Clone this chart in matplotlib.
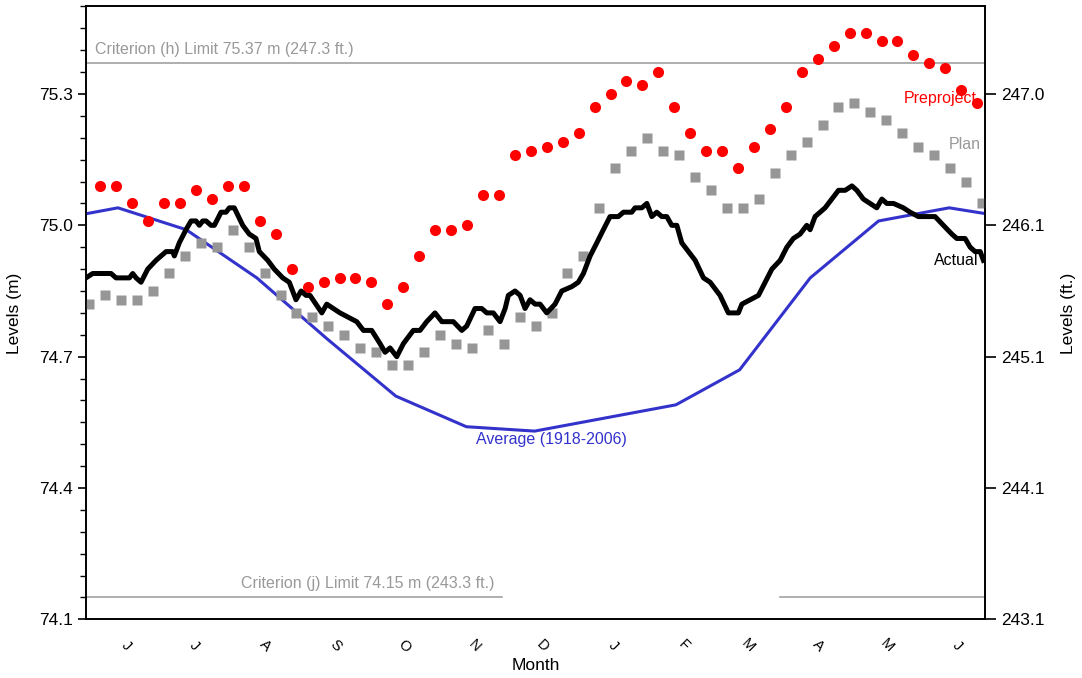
import numpy as np
import matplotlib
matplotlib.use("Agg")
import matplotlib.pyplot as plt
import matplotlib.transforms as mtransforms

plt.rcParams["font.family"] = ["Liberation Sans", "DejaVu Sans"]

# x axis is in weeks counted from June 1
months = ["J", "J", "A", "S", "O", "N", "D", "J", "F", "M", "A", "M", "J"]
month_days = [30, 31, 31, 30, 31, 30, 31, 31, 28, 31, 30, 31, 30]

# Average (1918-2006), monthly values from the May before to the July after (m)
average_m = [75.01, 75.04, 74.99, 74.88, 74.74, 74.61, 74.54, 74.53,
             74.56, 74.59, 74.67, 74.88, 75.01, 75.04, 74.99]

# Plan weekly levels (m)
plan_m = [74.82, 74.84, 74.83, 74.83, 74.85, 74.89, 74.93, 74.96, 74.95, 74.99,
          74.95, 74.89, 74.84, 74.80, 74.79, 74.77, 74.75, 74.72, 74.71, 74.68,
          74.68, 74.71, 74.75, 74.73, 74.72, 74.76, 74.73, 74.79, 74.77, 74.80,
          74.89, 74.93, 75.04, 75.13, 75.17, 75.20, 75.17, 75.16, 75.11, 75.08,
          75.04, 75.04, 75.06, 75.12, 75.16, 75.19, 75.23, 75.27, 75.28, 75.26,
          75.24, 75.21, 75.18, 75.16, 75.13, 75.10, 75.05]

# Preproject weekly levels (m)
preproject_m = [75.09, 75.09, 75.05, 75.01, 75.05, 75.05, 75.08, 75.06, 75.09, 75.09,
                75.01, 74.98, 74.90, 74.86, 74.87, 74.88, 74.88, 74.87, 74.82, 74.86,
                74.93, 74.99, 74.99, 75.00, 75.07, 75.07, 75.16, 75.17, 75.18, 75.19,
                75.21, 75.27, 75.30, 75.33, 75.32, 75.35, 75.27, 75.21, 75.17, 75.17,
                75.13, 75.18, 75.22, 75.27, 75.35, 75.38, 75.41, 75.44, 75.44, 75.42,
                75.42, 75.39, 75.37, 75.36, 75.31, 75.28]

# Actual levels (week, m)
actual_week = [0.00, 0.42, 1.57, 1.88, 2.72, 2.93, 3.14, 3.45, 3.87, 4.39,
               5.02, 5.44, 5.54, 5.85, 6.27, 6.59, 6.90, 7.11, 7.32, 7.53,
               7.84, 8.05, 8.47, 8.78, 8.99, 9.30, 9.83, 10.24, 10.66, 10.87,
               11.40, 11.81, 12.34, 12.75, 13.17, 13.49, 13.80, 14.05, 14.79, 15.10,
               15.51, 15.93, 16.46, 16.98, 17.40, 17.92, 18.44, 18.76, 19.07, 19.49,
               19.91, 20.53, 20.95, 21.37, 21.89, 22.32, 23.04, 23.57, 23.88, 24.40,
               24.82, 25.14, 25.55, 25.97, 26.29, 26.49, 26.91, 27.23, 27.54, 27.85,
               28.17, 28.48, 28.90, 29.42, 29.84, 30.47, 30.88, 31.20, 31.62, 32.04,
               32.45, 32.87, 33.39, 33.71, 34.23, 34.44, 34.86, 35.18, 35.49, 35.80,
               36.12, 36.43, 36.74, 37.06, 37.37, 37.79, 38.21, 38.73, 39.15, 39.77,
               40.29, 40.92, 41.14, 41.66, 42.18, 42.60, 43.02, 43.54, 43.96, 44.37,
               44.79, 45.21, 45.42, 45.73, 46.05, 46.36, 46.78, 47.20, 47.62, 48.04,
               48.35, 48.76, 49.18, 49.60, 49.92, 50.23, 50.65, 51.27, 51.69, 52.21,
               52.95, 53.26, 53.78, 54.31, 54.62, 55.14, 55.46, 55.77, 56.09, 56.29]
actual_m = [74.88, 74.89, 74.89, 74.88, 74.88, 74.89, 74.88, 74.87, 74.90, 74.92,
            74.94, 74.94, 74.93, 74.96, 74.99, 75.01, 75.01, 75.00, 75.01, 75.01,
            75.00, 75.00, 75.03, 75.03, 75.04, 75.04, 75.00, 74.98, 74.97, 74.94,
            74.92, 74.90, 74.88, 74.87, 74.83, 74.85, 74.84, 74.84, 74.80, 74.82,
            74.81, 74.80, 74.79, 74.78, 74.76, 74.76, 74.73, 74.71, 74.72, 74.70,
            74.73, 74.76, 74.76, 74.78, 74.80, 74.78, 74.78, 74.76, 74.77, 74.81,
            74.81, 74.80, 74.80, 74.78, 74.81, 74.84, 74.85, 74.84, 74.81, 74.83,
            74.82, 74.82, 74.80, 74.82, 74.85, 74.86, 74.87, 74.89, 74.93, 74.96,
            74.99, 75.02, 75.02, 75.03, 75.03, 75.04, 75.04, 75.05, 75.02, 75.03,
            75.02, 75.02, 75.00, 75.00, 74.96, 74.94, 74.92, 74.88, 74.87, 74.84,
            74.80, 74.80, 74.82, 74.83, 74.84, 74.87, 74.90, 74.92, 74.95, 74.97,
            74.98, 75.00, 74.99, 75.02, 75.03, 75.04, 75.06, 75.08, 75.08, 75.09,
            75.08, 75.06, 75.05, 75.04, 75.06, 75.05, 75.05, 75.04, 75.03, 75.02,
            75.02, 75.02, 75.00, 74.98, 74.97, 74.97, 74.95, 74.94, 74.94, 74.92]

crit_h = 75.37
crit_j = 74.15
crit_j_gap = (26.1, 43.5)  # weeks where criterion (j) line is not drawn
m_ticks = [74.1, 74.4, 74.7, 75.0, 75.3]

# positions
starts = np.concatenate([[0], np.cumsum(month_days)[:-1]])
month_mid = (starts + 14) / 7.0
avg_x = np.concatenate([[-17 / 7.0], month_mid, [(starts[-1] + month_days[-1] + 44) / 7.0]])
plan_x = 0.2 + np.arange(len(plan_m))
pre_x = 0.9 + np.arange(len(preproject_m))
xmax = 56.4

GRAY = "#999999"
FS_NOTE = 11.5
fig = plt.figure(figsize=(10.82, 6.78), dpi=100)
ax = fig.add_axes([0.0795, 0.0865, 0.831, 0.904])

ax.axhline(crit_h, color=GRAY, lw=1.1)
ax.plot([0, crit_j_gap[0]], [crit_j, crit_j], color=GRAY, lw=1.1)
ax.plot([crit_j_gap[1], xmax], [crit_j, crit_j], color=GRAY, lw=1.1)

ax.plot(avg_x, average_m, color="#3333cc", lw=2.2, zorder=3)
ax.plot(plan_x, plan_m, ls="none", marker="s", ms=7, color="#969696", mec="none", zorder=4)
ax.plot(pre_x, preproject_m, ls="none", marker="o", ms=8, color="#ff0000", mec="none", zorder=4)
ax.plot(actual_week, actual_m, color="black", lw=3.6, zorder=5)

ax.text(0.55, 75.385, "Criterion (h) Limit 75.37 m (247.3 ft.)", color=GRAY,
        fontsize=FS_NOTE, ha="left", va="bottom")
ax.text(17.7, 74.165, "Criterion (j) Limit 74.15 m (243.3 ft.)", color=GRAY,
        fontsize=FS_NOTE, ha="center", va="bottom")
ax.text(55.9, 75.29, "Preproject", color="#ff0000", fontsize=FS_NOTE, ha="right", va="center")
ax.text(56.1, 75.185, "Plan", color=GRAY, fontsize=FS_NOTE, ha="right", va="center")
ax.text(55.95, 74.92, "Actual", color="black", fontsize=FS_NOTE, ha="right", va="center", zorder=6)
ax.text(29.2, 74.51, "Average (1918-2006)", color="#3333cc", fontsize=FS_NOTE,
        ha="center", va="center")

ax.set_xlim(0, xmax)
ax.set_ylim(74.1, 75.5)
ax.set_yticks(m_ticks)
ax.set_yticklabels([f"{v:.1f}" for v in m_ticks], fontsize=12.5)
ax.set_yticks(np.arange(74.1, 75.5001, 0.05), minor=True)
ax.tick_params(axis="y", which="major", direction="out", length=6, width=1.2)
ax.tick_params(axis="y", which="minor", direction="out", length=4, width=1.0)
ax.set_xticks(month_mid)
ax.set_xticklabels(months, rotation=-45, fontsize=10.5, ha="center", va="center")
ax.tick_params(axis="x", length=0, pad=19)
shift = mtransforms.ScaledTranslation(8 / 100, 0, fig.dpi_scale_trans)
for lbl in ax.get_xticklabels():
    lbl.set_transform(lbl.get_transform() + shift)
ax.set_xlabel("Month", fontsize=12.5, labelpad=2)
ax.set_ylabel("Levels (m)", fontsize=12.5, labelpad=12)
for s in ax.spines.values():
    s.set_linewidth(1.2)

ax2 = ax.twinx()
ax2.set_ylim(74.1, 75.5)
ax2.set_yticks(m_ticks)
ax2.set_yticklabels([f"{v / 0.3048:.1f}" for v in m_ticks], fontsize=12.5)
ax2.tick_params(axis="y", direction="out", length=8, width=1.2)
ax2.set_ylabel("Levels (ft.)", fontsize=12.5, rotation=90, labelpad=12)
for s in ax2.spines.values():
    s.set_linewidth(1.2)

fig.savefig("out.png", dpi=100)
